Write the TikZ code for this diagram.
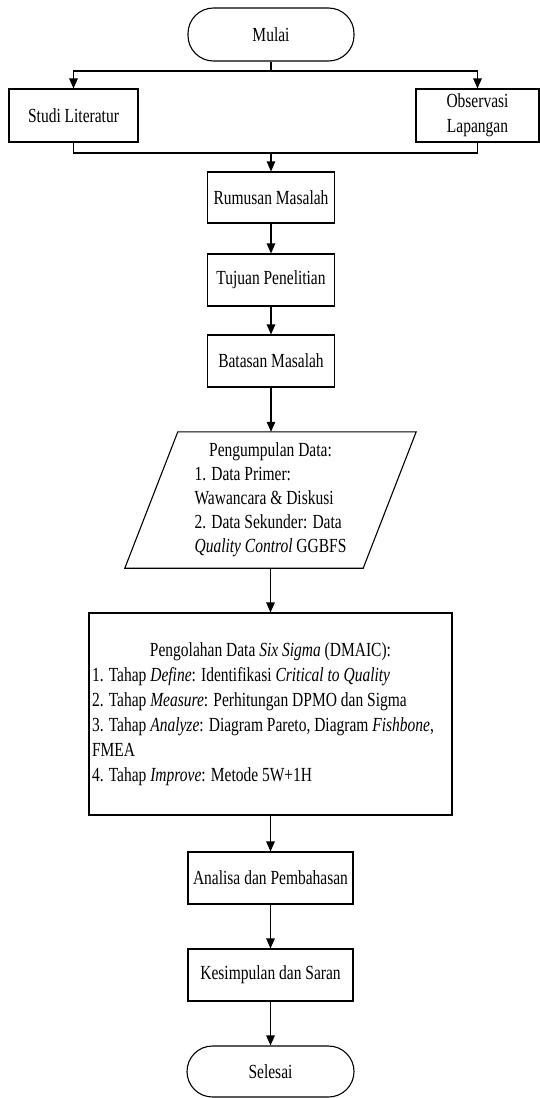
\documentclass[tikz,border=0pt]{standalone}
\usepackage{fontspec}
\setmainfont{Liberation Serif}[FakeStretch=0.775]
\usetikzlibrary{arrows.meta}
\newcommand{\fcfont}{\fontsize{20}{24}\selectfont}
\newcommand{\fcfontb}{\fontsize{20}{25}\selectfont}
\begin{document}
\begin{tikzpicture}[x=1pt,y=-1pt,
  ln/.style={line width=1.1pt},
  arr/.style={line width=1.1pt,-{Triangle[width=8.5pt,length=10pt]}},
  box/.style={draw,line width=1.1pt,inner sep=0pt,align=center,font=\fcfont},
  term/.style={box,rounded corners=25.5pt}]
\useasboundingbox (0,0) rectangle (540,1098);
\node[term,minimum width=166pt,minimum height=53pt] (mulai) at (271,34.5) {Mulai};
\node[box,minimum width=129pt,minimum height=53pt] (studi) at (73.5,115.5) {Studi Literatur};
\node[box,minimum width=123pt,minimum height=53pt] (obs) at (477.5,115.5) {Observasi\\[1pt]Lapangan};
\node[box,minimum width=127pt,minimum height=51pt] (rumusan) at (271,197.5) {Rumusan Masalah};
\node[box,minimum width=127pt,minimum height=52pt] (tujuan) at (271,280) {Tujuan Penelitian};
\node[box,minimum width=127pt,minimum height=52pt] (batasan) at (271,361) {Batasan Masalah};
\node[inner sep=0pt,minimum width=291pt,minimum height=136pt,font=\fcfont] (pd) at (270.5,500) {%
  \begin{tabular}{@{}l@{}}
  \multicolumn{1}{@{}c@{}}{Pengumpulan Data:}\\
  1. Data Primer:\\
  Wawancara \& Diskusi\\
  2. Data Sekunder: Data\\
  \textit{Quality Control} GGBFS
  \end{tabular}};
\draw[ln] ([xshift=53pt]pd.north west) -- (pd.north east) -- ([xshift=-53pt]pd.south east) -- (pd.south west) -- cycle;
\node[box,minimum width=363pt,minimum height=202pt,font=\fcfontb] (olah) at (270.5,714) {%
  \begin{tabular}{@{}p{357pt}@{}}
  \multicolumn{1}{@{}c@{}}{Pengolahan Data \textit{Six Sigma} (DMAIC):}\\
  1. Tahap \textit{Define}: Identifikasi \textit{Critical to Quality}\\
  2. Tahap \textit{Measure}: Perhitungan DPMO dan Sigma\\
  3. Tahap \textit{Analyze}: Diagram Pareto, Diagram \textit{Fishbone},\\
  FMEA\\
  4. Tahap \textit{Improve}: Metode 5W+1H
  \end{tabular}};
\node[box,minimum width=165pt,minimum height=52pt] (analisa) at (270.5,878) {Analisa dan Pembahasan};
\node[box,minimum width=165pt,minimum height=52pt] (kesimpulan) at (270.5,975) {Kesimpulan dan Saran};
\node[term,minimum width=167pt,minimum height=51pt] (selesai) at (270.5,1071.5) {Selesai};
\coordinate (j1) at (271,71);
\coordinate (j2) at (271,153);
\draw[ln] (mulai.south) -- (j1);
\draw[arr] (j1) -| (studi.north);
\draw[arr] (j1) -| (obs.north);
\draw[ln] (studi.south) |- (j2);
\draw[ln] (obs.south) |- (j2);
\draw[arr] (j2) -- (rumusan.north);
\draw[arr] (rumusan.south) -- (tujuan.north);
\draw[arr] (tujuan.south) -- (batasan.north);
\draw[arr] (batasan.south) -- (batasan.south |- pd.north);
\draw[arr] (pd.south -| olah.north) -- (olah.north);
\draw[arr] (olah.south) -- (analisa.north);
\draw[arr] (analisa.south) -- (kesimpulan.north);
\draw[arr] (kesimpulan.south) -- (selesai.north);
\end{tikzpicture}
\end{document}
